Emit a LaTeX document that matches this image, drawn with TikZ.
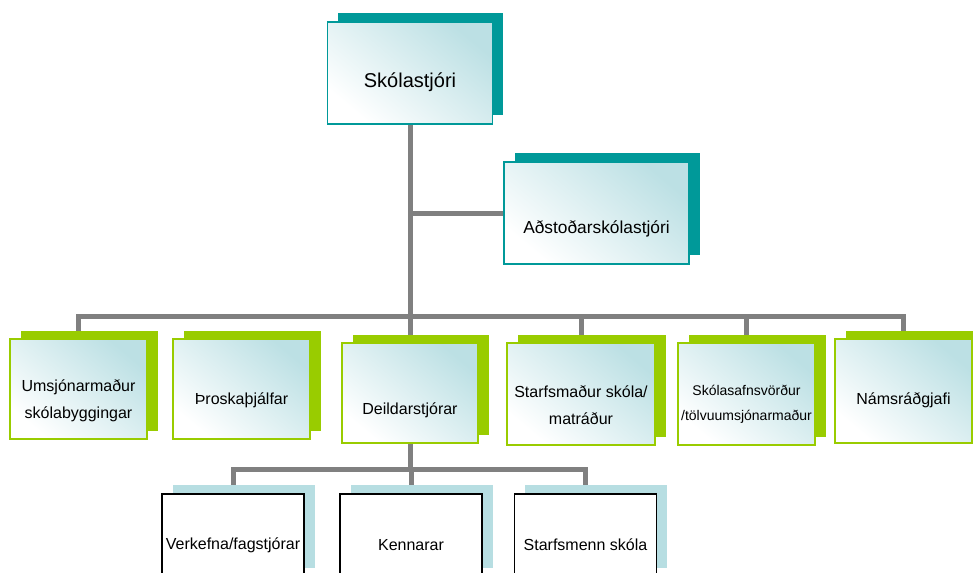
\documentclass[tikz,border=0pt]{standalone}
\usepackage{fontspec}
\setmainfont{Liberation Sans}
\usetikzlibrary{shadows,backgrounds}
\definecolor{headteal}{RGB}{0,153,153}
\definecolor{rowgreen}{RGB}{153,204,0}
\definecolor{paleblue}{RGB}{183,222,226}
\definecolor{linegray}{RGB}{128,128,128}
\definecolor{glow}{RGB}{188,224,228}

\begin{document}
\begin{tikzpicture}[x=0.75pt, y=-0.75pt]

      \tikzset{card/.style={rectangle, inner sep=0pt, line width=1.2pt, top color=glow, bottom color=white, shading angle=-40},
               headbox/.style={card, draw=headteal, general shadow={shadow xshift=7.9pt, shadow yshift=6.75pt, fill=headteal}},
               rowbox/.style={card, draw=rowgreen, general shadow={shadow xshift=8.25pt, shadow yshift=6pt, fill=rowgreen}},
               lowbox/.style={rectangle, inner sep=0pt, draw=black, line width=1.2pt, fill=white, minimum width=106.5pt, minimum height=62.25pt, general shadow={shadow xshift=7.9pt, shadow yshift=6.75pt, fill=paleblue}},
               boxtext/.style={font=\fontsize{12}{20}\selectfont, align=center},
               link/.style={draw=linegray, line width=3.75pt}}
      \clip (0,0) rectangle (973,572);
%% Boxes
      	\node[headbox, minimum width=123.75pt, minimum height=76.5pt, label={[font=\fontsize{15}{18}\selectfont, yshift=-6.75pt]center:Skólastjóri}] (boss) at (410,73) {};
      	\node[headbox, minimum width=138.75pt, minimum height=76.5pt, label={[font=\fontsize{13}{16}\selectfont, yshift=-12pt]center:Aðstoðarskólastjóri}] (deputy) at (596.5,213) {};
      	\node[rowbox, minimum width=102.75pt, minimum height=75pt, label={[boxtext, yshift=-9pt]center:{Umsjónarmaður\\skólabyggingar}}] (caretaker) at (78.5,389) {};
      	\node[rowbox, minimum width=102.75pt, minimum height=75pt, label={[boxtext, yshift=-8.25pt]center:Þroskaþjálfar}] (therapist) at (241.5,389) {};
      	\node[rowbox, minimum width=102pt, minimum height=75pt, label={[boxtext, yshift=-12.75pt]center:Deildarstjórar}] (heads) at (410,393) {};
      	\node[rowbox, minimum width=111pt, minimum height=76.5pt, label={[boxtext, yshift=-8.25pt]center:{Starfsmaður skóla/\\matráður}}] (cook) at (581,394) {};
      	\node[rowbox, minimum width=102.75pt, minimum height=76.5pt, label={[boxtext, font=\fontsize{10.5}{19}\selectfont, yshift=-7.5pt]center:{Skólasafnsvörður\\/tölvuumsjónarmaður}}] (librarian) at (746.5,394) {};
      	\node[rowbox, minimum width=102.75pt, minimum height=78pt, label={[boxtext, yshift=-6.75pt]center:Námsráðgjafi}] (counsellor) at (903.5,391) {};
      	\node[lowbox, label={[boxtext, yshift=-7pt]center:Verkefna/fagstjórar}] (leads) at (233,535.5) {};
      	\node[lowbox, label={[boxtext, yshift=-7pt]center:Kennarar}] (teachers) at (411,535.5) {};
      	\node[lowbox, label={[boxtext, yshift=-7pt]center:Starfsmenn skóla}] (staff) at (585.5,535.5) {};
      	\coordinate (bar) at (410,316);
      	\coordinate (bus) at (410,469);
%Lines
      \begin{scope}[on background layer]
		\path[link] (boss.south) -- (heads.north);
		\path[link] (boss.south |- deputy.west) -- (deputy.west);
		\path[link] (caretaker.north) |- (bar) -| (counsellor.north);
		\path[link] (cook.north) -- (cook.north |- bar);
		\path[link] (librarian.north) -- (librarian.north |- bar);
		\path[link] (heads.south) -- (heads.south |- bus);
		\path[link] (leads.north) |- (bus) -| (staff.north);
		\path[link] (teachers.north) -- (teachers.north |- bus);
      \end{scope}

	\end{tikzpicture}
\end{document}
